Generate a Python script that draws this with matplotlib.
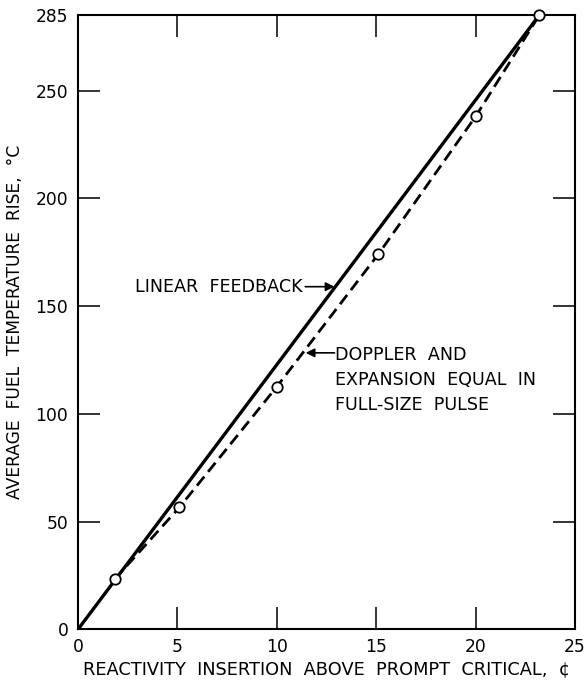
import matplotlib
matplotlib.use("Agg")
import matplotlib.pyplot as plt

# Linear-feedback prediction (straight line from origin to the full-size pulse)
linear_x = [0.0, 23.2]
linear_y = [0.0, 285.0]

# Doppler + expansion case, computed points
doppler_x = [1.85, 5.1, 10.0, 15.1, 20.0, 23.2]
doppler_y = [23.3, 56.6, 112.6, 174.0, 238.0, 285.0]

x_ticks = [0, 5, 10, 15, 20, 25]
y_ticks = [0, 50, 100, 150, 200, 250, 285]

plt.rcParams['font.family'] = ['DejaVu Sans']

fig = plt.figure(figsize=(5.88, 6.89), dpi=100)
ax = fig.add_axes([0.1327, 0.0866, 0.8453, 0.8914])

ax.plot(linear_x, linear_y, color='black', lw=2.4, solid_capstyle='butt', zorder=3)
ax.plot(doppler_x, doppler_y, color='black', lw=2.0, dashes=(4.2, 2.2), zorder=3)
ax.plot(doppler_x, doppler_y, linestyle='none', marker='o', ms=7.5,
        mfc='white', mec='black', mew=1.3, zorder=5, clip_on=False)

ax.set_xlim(0, 25)
ax.set_ylim(0, 285)
ax.set_xticks(x_ticks)
ax.set_yticks(y_ticks)
ax.tick_params(direction='in', length=16, width=1.1, labelsize=12.3,
               top=True, right=True, pad=7, colors='black')
ax.tick_params(axis='x', pad=6)
for s in ax.spines.values():
    s.set_linewidth(1.5)

ax.set_xlabel('REACTIVITY  INSERTION  ABOVE  PROMPT  CRITICAL,  \u00a2',
              fontsize=12.8, labelpad=3)
ax.set_ylabel('AVERAGE  FUEL  TEMPERATURE  RISE,  \u00b0C',
              fontsize=12.3, labelpad=8)

arrow = dict(arrowstyle='-|>', lw=1.2, color='black', mutation_scale=13,
             shrinkA=0, shrinkB=0)
ax.annotate('LINEAR  FEEDBACK', xy=(12.9, 159), xytext=(2.86, 159),
            fontsize=12.6, va='center', ha='left', arrowprops=arrow)
ax.annotate('', xy=(11.45, 128.3), xytext=(12.9, 128.3), arrowprops=arrow)
ax.text(12.95, 131.6, 'DOPPLER  AND\nEXPANSION  EQUAL  IN\nFULL-SIZE  PULSE',
        fontsize=12.6, va='top', ha='left', linespacing=1.5)

fig.savefig('out.png', dpi=100)
